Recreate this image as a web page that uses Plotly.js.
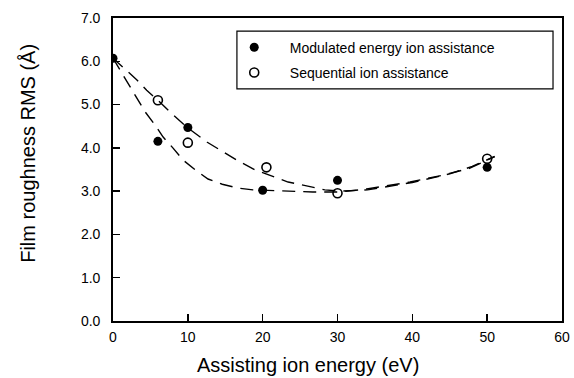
<!DOCTYPE html>
<html>
<head>
<meta charset="utf-8">
<script src="https://cdn.plot.ly/plotly-3.0.1.min.js"></script>
<style>html,body{margin:0;padding:0;background:#fff;}#chart{width:574px;height:378px;}</style>
</head>
<body>
<div id="chart"></div>
<script>
// Measured points
var modX = [0, 6, 10, 20, 30, 50];
var modY = [6.07, 4.15, 4.47, 3.02, 3.25, 3.55];
var seqX = [6, 10, 20.5, 30, 50];
var seqY = [5.1, 4.12, 3.55, 2.95, 3.75];

// Dashed fit curves
var fitModX = [0, 2.1, 3.2, 4.3, 5.6, 6.7, 8.0, 9.35, 11.0, 12.7, 14.6, 16.7, 18.7, 22.7, 26.7, 30.3, 33.9, 39.7, 44.1, 47.7, 49.7, 51];
var fitModY = [6.07, 5.45, 5.15, 4.83, 4.53, 4.25, 4.0, 3.72, 3.49, 3.28, 3.16, 3.07, 3.03, 3.0, 2.98, 2.98, 3.05, 3.21, 3.37, 3.53, 3.70, 3.8];
var fitSeqX = [0, 3.2, 4.5, 6.0, 7.6, 10.0, 12.6, 14.3, 16.7, 19.0, 21.0, 23.4, 25.4, 28.3, 30.3, 34, 40, 45, 48, 50, 51];
var fitSeqY = [6.07, 5.57, 5.33, 5.1, 4.83, 4.46, 4.13, 3.95, 3.70, 3.49, 3.37, 3.21, 3.14, 3.03, 3.0, 3.03, 3.2, 3.4, 3.57, 3.72, 3.8];

var xTitle = 'Assisting ion energy (eV)';
var yTitle = 'Film roughness RMS (Å)';
var modName = 'Modulated energy ion assistance';
var seqName = 'Sequential ion assistance';

var font = '"Liberation Sans", Arial, Helvetica, sans-serif';
var pad = '\u00a0\u00a0\u00a0\u00a0';

var traces = [
  {x: fitModX, y: fitModY, mode: 'lines', line: {color: '#000', width: 1.4, dash: '13px,8px'}, showlegend: false, hoverinfo: 'skip'},
  {x: fitSeqX, y: fitSeqY, mode: 'lines', line: {color: '#000', width: 1.4, dash: '13px,8px'}, showlegend: false, hoverinfo: 'skip'},
  {x: modX, y: modY, mode: 'markers', name: pad + modName, legendgroup: 'a',
   marker: {symbol: 'circle', size: 9, color: '#000', line: {width: 0}}},
  {x: seqX, y: seqY, mode: 'markers', name: pad + seqName, legendgroup: 'b',
   marker: {symbol: 'circle-open', size: 9, color: '#000', line: {width: 1.6, color: '#000'}}}
];

var layout = {
  width: 574, height: 378,
  margin: {l: 113, r: 12, t: 18, b: 57},
  paper_bgcolor: '#fff', plot_bgcolor: '#fff',
  font: {family: font, size: 14, color: '#000'},
  showlegend: true,
  legend: {
    x: 0.27, y: 0.955, xanchor: 'left', yanchor: 'top',
    bgcolor: 'rgba(0,0,0,0)', borderwidth: 0,
    font: {family: font, size: 14, color: '#000'},
    itemwidth: 30, tracegroupgap: 4
  },
  xaxis: {
    range: [0, 60], dtick: 10, tick0: 0,
    ticks: 'inside', ticklen: 7, tickwidth: 1.5, tickcolor: '#000',
    showline: true, linewidth: 1.8, linecolor: '#000', mirror: true,
    showgrid: false, zeroline: false, ticklabelstandoff: 2,
    tickfont: {family: font, size: 14, color: '#000'}
  },
  yaxis: {
    range: [0, 7], dtick: 1, tick0: 0, tickformat: '.1f',
    ticks: 'inside', ticklen: 7, tickwidth: 1.5, tickcolor: '#000',
    showline: true, linewidth: 1.8, linecolor: '#000', mirror: true,
    showgrid: false, zeroline: false, ticklabelstandoff: 8,
    tickfont: {family: font, size: 14, color: '#000'}
  },
  shapes: [
    {type: 'rect', xref: 'paper', yref: 'paper', x0: 0.276, x1: 0.98, y0: 0.766, y1: 0.957,
     line: {color: '#000', width: 1.2}, fillcolor: 'rgba(0,0,0,0)'}
  ],
  annotations: [
    {text: xTitle, xref: 'paper', yref: 'paper', x: 0.434, y: -0.145, showarrow: false,
     xanchor: 'center', yanchor: 'middle', font: {family: font, size: 20, color: '#000'}},
    {text: yTitle, xref: 'paper', yref: 'paper', x: -0.19, y: 0.554, showarrow: false, textangle: -90,
     xanchor: 'center', yanchor: 'middle', font: {family: font, size: 20, color: '#000'}}
  ]
};

Plotly.newPlot('chart', traces, layout, {staticPlot: true, displayModeBar: false});
</script>
</body>
</html>
